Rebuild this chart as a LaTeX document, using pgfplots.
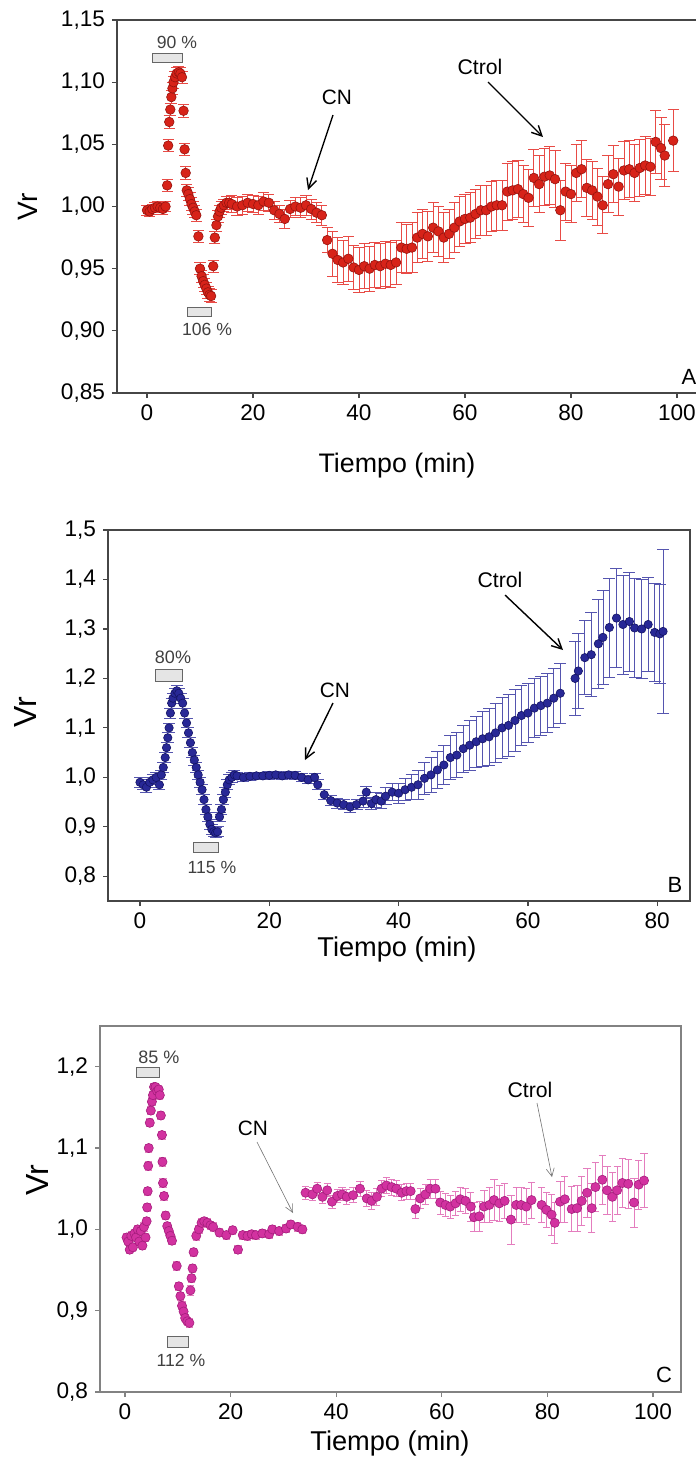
\documentclass[border=0pt]{standalone}
\usepackage{fontspec}
\setmainfont{Liberation Sans}
\usepackage{pgfplots}
\pgfplotsset{compat=1.18}
\usepackage{pgfplotstable}
\usetikzlibrary{arrows.meta}

\definecolor{redF}{RGB}{215,35,25}
\definecolor{redE}{RGB}{150,20,15}
\definecolor{redB}{RGB}{232,75,70}
\definecolor{bluF}{RGB}{40,40,150}
\definecolor{bluE}{RGB}{20,20,100}
\definecolor{bluB}{RGB}{85,85,175}
\definecolor{magF}{RGB}{210,50,160}
\definecolor{magE}{RGB}{165,30,125}
\definecolor{magB}{RGB}{228,125,190}
\definecolor{axA}{RGB}{70,70,70}
\definecolor{axC}{RGB}{130,130,130}

\pgfplotstableread{
t v e
0 0.997 0.004
0.5 0.996 0.004
1 0.998 0.004
1.5 0.999 0.004
2 1.000 0.004
2.5 0.999 0.004
3 0.998 0.004
3.5 1.000 0.004
3.8 1.017 0.005
4.0 1.049 0.005
4.2 1.068 0.005
4.4 1.078 0.005
4.6 1.088 0.005
4.8 1.095 0.005
5.0 1.100 0.005
5.3 1.104 0.005
5.6 1.107 0.005
6.0 1.108 0.005
6.3 1.107 0.005
6.6 1.104 0.005
6.9 1.077 0.005
7.1 1.046 0.005
7.3 1.027 0.005
7.5 1.013 0.005
7.8 1.010 0.005
8.1 1.006 0.005
8.4 1.002 0.005
8.7 0.999 0.005
9.0 0.996 0.005
9.3 0.993 0.005
9.7 0.976 0.005
10.0 0.950 0.005
10.3 0.944 0.005
10.6 0.940 0.005
10.9 0.937 0.005
11.2 0.934 0.005
11.5 0.931 0.005
11.8 0.929 0.005
12.1 0.928 0.005
12.5 0.952 0.005
12.8 0.975 0.005
13.1 0.985 0.005
13.4 0.992 0.005
13.7 0.996 0.005
14.0 0.999 0.005
14.5 1.001 0.005
15.0 1.003 0.005
15.5 1.003 0.005
16 1.002 0.007
17 1.000 0.007
18 1.001 0.007
19 1.003 0.007
20 1.002 0.007
21 1.001 0.007
22 1.004 0.007
23 1.003 0.007
24 0.997 0.007
25 0.994 0.007
26 0.990 0.008
27 0.998 0.007
28 1.000 0.007
29 0.999 0.008
30 1.001 0.008
31 0.998 0.008
32 0.995 0.008
33 0.993 0.008
34 0.973 0.010
35 0.962 0.018
36 0.957 0.018
37 0.955 0.018
38 0.958 0.018
39 0.951 0.018
40 0.949 0.018
41 0.952 0.018
42 0.950 0.018
43 0.953 0.018
44 0.952 0.018
45 0.954 0.018
46 0.953 0.018
47 0.955 0.018
48 0.967 0.020
49 0.966 0.020
50 0.967 0.020
51 0.975 0.020
52 0.978 0.020
53 0.976 0.020
54 0.983 0.020
55 0.980 0.020
56 0.975 0.020
57 0.978 0.020
58 0.983 0.020
59 0.988 0.020
60 0.990 0.020
61 0.991 0.020
62 0.994 0.020
63 0.997 0.020
64 0.997 0.020
65 1.000 0.020
66 1.001 0.020
67 1.001 0.020
68 1.012 0.023
69 1.013 0.023
70 1.014 0.023
71 1.010 0.023
72 1.007 0.023
73 1.023 0.023
74 1.018 0.023
75 1.024 0.023
76 1.025 0.023
77 1.022 0.023
78 0.997 0.024
79 1.012 0.023
80 1.010 0.023
81 1.027 0.023
82 1.030 0.023
83 1.015 0.023
84 1.013 0.023
85 1.008 0.023
86 1.001 0.023
87 1.018 0.023
88 1.026 0.023
89 1.016 0.023
90 1.029 0.023
91 1.030 0.023
92 1.027 0.023
93 1.031 0.023
94 1.033 0.023
95 1.032 0.023
96 1.052 0.025
97 1.047 0.025
97.7 1.041 0.025
99.3 1.053 0.025
}\dataA

\pgfplotstableread{
t v e
0 0.990 0.010
0.5 0.985 0.010
1 0.980 0.010
1.5 0.990 0.010
2 0.995 0.010
2.5 1.000 0.010
3 0.985 0.010
3.3 1.005 0.010
3.6 1.020 0.010
3.9 1.040 0.010
4.1 1.060 0.010
4.3 1.080 0.010
4.5 1.100 0.010
4.7 1.130 0.010
4.9 1.150 0.010
5.1 1.160 0.010
5.4 1.170 0.010
5.7 1.175 0.010
6.0 1.170 0.010
6.3 1.160 0.010
6.6 1.150 0.010
6.9 1.130 0.010
7.2 1.110 0.010
7.5 1.090 0.010
7.8 1.070 0.010
8.1 1.050 0.010
8.4 1.035 0.010
8.7 1.020 0.010
9.0 1.005 0.010
9.3 0.990 0.010
9.6 0.975 0.010
9.9 0.955 0.010
10.2 0.935 0.010
10.5 0.920 0.010
10.8 0.905 0.010
11.1 0.895 0.010
11.4 0.890 0.010
11.7 0.888 0.010
12.0 0.890 0.010
12.3 0.920 0.010
12.6 0.935 0.010
12.9 0.955 0.010
13.2 0.970 0.010
13.5 0.985 0.010
13.8 0.995 0.010
14.2 1.000 0.010
14.6 1.005 0.010
15 1.003 0.008
16 1.000 0.008
17 1.002 0.008
18 1.003 0.008
19 1.003 0.008
20 1.004 0.008
21 1.005 0.008
22 1.003 0.008
23 1.005 0.008
24 1.004 0.008
25 1.000 0.008
26 0.995 0.008
27 1.000 0.008
27.5 0.985 0.010
28.5 0.965 0.010
29.5 0.953 0.010
30.5 0.948 0.010
31.5 0.945 0.010
32.5 0.940 0.010
33.5 0.945 0.010
34.5 0.952 0.012
35 0.970 0.012
35.8 0.947 0.012
36.5 0.955 0.015
37.3 0.952 0.015
38 0.962 0.017
39 0.970 0.017
40 0.968 0.020
41 0.975 0.022
42 0.980 0.025
43 0.985 0.030
44 0.998 0.032
45 1.005 0.035
46 1.015 0.038
47 1.025 0.040
48 1.040 0.045
49 1.045 0.045
50 1.058 0.048
51 1.065 0.050
52 1.072 0.052
53 1.078 0.055
54 1.082 0.057
55 1.090 0.060
56 1.100 0.062
57 1.105 0.062
58 1.115 0.062
59 1.125 0.060
60 1.130 0.060
61 1.140 0.060
62 1.145 0.060
63 1.150 0.060
64 1.160 0.060
65 1.170 0.060
67.3 1.200 0.075
67.8 1.215 0.075
68.8 1.242 0.075
69.8 1.248 0.085
70.9 1.270 0.090
71.6 1.283 0.095
72.6 1.303 0.100
73.7 1.322 0.100
74.7 1.309 0.100
75.7 1.315 0.100
76.5 1.302 0.100
77.6 1.300 0.100
78.6 1.309 0.095
79.6 1.293 0.100
80.4 1.290 0.100
80.9 1.295 0.165
}\dataB

\pgfplotstableread{
t v e
0.3 0.990 0.005
0.6 0.985 0.005
0.9 0.975 0.005
1.2 0.992 0.005
1.5 0.978 0.005
1.8 0.995 0.005
2.1 0.990 0.005
2.4 1.000 0.005
2.7 0.985 0.005
3.0 0.998 0.005
3.3 0.980 0.005
3.6 1.003 0.005
3.9 0.990 0.005
4.1 1.010 0.005
4.2 1.027 0.005
4.3 1.047 0.005
4.4 1.078 0.005
4.5 1.100 0.005
4.7 1.131 0.005
4.9 1.146 0.005
5.1 1.157 0.005
5.3 1.165 0.005
5.5 1.175 0.005
5.8 1.175 0.005
6.1 1.170 0.005
6.4 1.172 0.005
6.6 1.165 0.005
6.8 1.140 0.005
7.0 1.116 0.005
7.1 1.083 0.006
7.2 1.057 0.006
7.4 1.041 0.005
7.7 1.017 0.005
8.0 1.004 0.005
8.3 0.998 0.005
8.6 0.992 0.005
8.9 0.986 0.005
9.8 0.955 0.005
10.2 0.930 0.005
10.5 0.918 0.005
10.8 0.906 0.005
11.1 0.899 0.005
11.4 0.891 0.005
11.8 0.887 0.005
12.2 0.885 0.005
12.4 0.925 0.006
12.6 0.940 0.005
12.8 0.952 0.005
13.0 0.972 0.005
13.5 0.992 0.005
14.0 1.000 0.005
14.5 1.008 0.005
15.0 1.010 0.005
15.6 1.008 0.005
16.2 1.005 0.005
16.7 1.003 0.005
17.9 0.996 0.005
19.2 0.993 0.005
20.4 0.999 0.005
21.4 0.975 0.005
22.3 0.993 0.005
23.2 0.992 0.005
24.0 0.994 0.005
24.8 0.993 0.005
26.0 0.995 0.005
27.3 0.994 0.005
27.9 1.000 0.005
29.2 0.998 0.005
30.5 1.001 0.005
31.4 1.006 0.005
32.7 1.003 0.005
33.6 1.000 0.005
34.2 1.045 0.008
35.5 1.043 0.008
36.4 1.050 0.008
37.4 1.040 0.008
38.3 1.048 0.008
39.2 1.034 0.008
40.2 1.041 0.008
41.1 1.043 0.008
42.0 1.040 0.009
43.2 1.042 0.009
44.5 1.050 0.009
45.8 1.038 0.010
46.7 1.035 0.010
47.7 1.040 0.010
48.6 1.050 0.010
49.5 1.054 0.010
50.5 1.052 0.010
51.4 1.050 0.010
52.4 1.045 0.010
53.3 1.047 0.010
54.1 1.047 0.010
55.0 1.025 0.012
55.9 1.038 0.012
56.9 1.043 0.012
57.8 1.050 0.012
58.8 1.050 0.012
59.7 1.033 0.014
60.7 1.030 0.014
61.6 1.028 0.014
62.6 1.032 0.015
63.5 1.037 0.015
64.5 1.035 0.015
65.5 1.028 0.018
66.1 1.015 0.018
67.1 1.016 0.018
68.0 1.028 0.020
69.0 1.030 0.022
69.9 1.036 0.025
70.9 1.032 0.022
71.9 1.035 0.022
73.1 1.012 0.030
74.1 1.030 0.022
75.0 1.030 0.022
76.0 1.028 0.022
77.0 1.036 0.022
78.9 1.030 0.022
79.8 1.024 0.022
80.8 1.018 0.025
81.4 1.008 0.025
82.4 1.034 0.025
83.3 1.037 0.028
84.6 1.025 0.028
85.6 1.026 0.028
86.5 1.035 0.030
87.5 1.045 0.030
88.4 1.026 0.030
89.1 1.052 0.030
90.4 1.061 0.030
91.3 1.048 0.030
92.3 1.040 0.030
93.2 1.048 0.030
94.2 1.057 0.030
95.3 1.056 0.030
96.4 1.033 0.030
97.3 1.055 0.030
98.3 1.060 0.033
}\dataC

\pgfplotsset{
  panel/.style={
    scale only axis, anchor=south west,
    tick align=outside, xtick pos=bottom, ytick pos=left,
    major tick length=2.5pt,
    tick label style={font=\fontsize{11.3}{13}\selectfont},
    /pgf/number format/assume math mode=true,
    /pgf/number format/use comma,
    /pgf/number format/1000 sep={},
    axis line style={line width=0.6pt},
    tick style={line width=0.6pt},
  },
}

\begin{document}
\begin{tikzpicture}
\useasboundingbox (0,0) rectangle (348pt,-732pt);

% Panel A
\begin{axis}[panel,
  at={(58.5pt,-196.5pt)}, width=294pt, height=186.5pt,
  xmin=-5.66, xmax=105.3, ymin=0.85, ymax=1.15,
  xtick={0,20,40,60,80,100},
  ytick={0.85,0.9,0.95,1,1.05,1.1,1.15},
  yticklabel style={/pgf/number format/.cd, fixed, fixed zerofill, precision=2},
  axis line style={draw=axA}, tick style={draw=axA},
]
\addplot[only marks, mark=*, mark size=2.4pt,
  mark options={fill=redF, draw=redE, line width=0.3pt},
  error bars/.cd, y dir=both, y explicit,
  error bar style={redB, line width=0.4pt},
  error mark options={rotate=90, redB, mark size=2.8pt, line width=0.4pt}]
  table[x index=0, y index=1, y error index=2] {\dataA};
\end{axis}

% Panel B
\begin{axis}[panel,
  at={(54pt,-450.5pt)}, width=291pt, height=185.5pt,
  xmin=-4.95, xmax=85.07, ymin=0.75, ymax=1.5,
  xtick={0,20,40,60,80},
  ytick={0.8,0.9,1,1.1,1.2,1.3,1.4,1.5},
  yticklabel style={/pgf/number format/.cd, fixed, fixed zerofill, precision=1},
  axis line style={draw=axA}, tick style={draw=axA},
]
\addplot[only marks, mark=*, mark size=2.1pt,
  mark options={fill=bluF, draw=bluE, line width=0.3pt},
  error bars/.cd, y dir=both, y explicit,
  error bar style={bluB, line width=0.4pt},
  error mark options={rotate=90, bluB, mark size=3pt, line width=0.4pt}]
  table[x index=0, y index=1, y error index=2] {\dataB};
\end{axis}

% Panel C
\begin{axis}[panel,
  at={(50pt,-696pt)}, width=290.5pt, height=183pt,
  xmin=-4.73, xmax=105.3, ymin=0.8, ymax=1.25,
  xtick={0,20,40,60,80,100},
  ytick={0.8,0.9,1,1.1,1.2},
  yticklabel style={/pgf/number format/.cd, fixed, fixed zerofill, precision=1},
  axis line style={draw=axC}, tick style={draw=axC},
]
\addplot[only marks, mark=*, mark size=2.3pt,
  mark options={fill=magF, draw=magE, line width=0.3pt},
  error bars/.cd, y dir=both, y explicit,
  error bar style={magB, line width=0.4pt},
  error mark options={rotate=90, magB, mark size=1.8pt, line width=0.4pt}]
  table[x index=0, y index=1, y error index=2] {\dataC};
\end{axis}

\begin{scope}[x=0.5pt, y=-0.5pt]
% axis labels
\node[rotate=90, font=\fontsize{14}{16}\selectfont] at (28,207) {Vr};
\node[rotate=90, font=\fontsize{16}{18}\selectfont] at (25,712) {Vr};
\node[rotate=90, font=\fontsize{16}{18}\selectfont] at (37,1180) {Vr};
\node[font=\fontsize{13.4}{16}\selectfont] at (397,466) {Tiempo (min)};
\node[font=\fontsize{13.6}{16}\selectfont] at (397,949) {Tiempo (min)};
\node[font=\fontsize{13.6}{16}\selectfont] at (390,1443) {Tiempo (min)};
% panel letters
\node[font=\fontsize{11}{13}\selectfont] at (689,377) {A};
\node[font=\fontsize{11}{13}\selectfont] at (675,885) {B};
\node[font=\fontsize{11}{13}\selectfont] at (664,1375) {C};
% A annotations
\node[font=\fontsize{8.8}{10}\selectfont, text=black!75] at (177,42) {90 \%};
\draw[draw=black!60, fill=black!10, line width=0.4pt] (152,53) rectangle (182,62);
\node[font=\fontsize{8.8}{10}\selectfont, text=black!75] at (207,329) {106 \%};
\draw[draw=black!60, fill=black!10, line width=0.4pt] (187,307) rectangle (211,316);
\node[font=\fontsize{10.4}{12}\selectfont] at (337,97) {CN};
\draw[-{Straight Barb[length=5pt,width=5pt]}, line width=0.7pt] (333,115) -- (308,190);
\node[font=\fontsize{10.6}{12}\selectfont] at (480,67) {Ctrol};
\draw[-{Straight Barb[length=5pt,width=5pt]}, line width=0.7pt] (488,82) -- (543,137);
% B annotations
\node[font=\fontsize{9}{10}\selectfont, text=black!75] at (173,657) {80\%};
\draw[draw=black!60, fill=black!10, line width=0.4pt] (155,669) rectangle (182,681);
\node[font=\fontsize{8.8}{10}\selectfont, text=black!75] at (212,867) {115 \%};
\draw[draw=black!60, fill=black!10, line width=0.4pt] (193,842) rectangle (218,852);
\node[font=\fontsize{10.4}{12}\selectfont] at (335,690) {CN};
\draw[-{Straight Barb[length=5pt,width=5pt]}, line width=0.7pt] (333,703) -- (305,760);
\node[font=\fontsize{10.6}{12}\selectfont] at (500,580) {Ctrol};
\draw[-{Straight Barb[length=5pt,width=5pt]}, line width=0.7pt] (505,595) -- (563,650);
% C annotations
\node[font=\fontsize{9}{10}\selectfont, text=black!75] at (159,1057) {85 \%};
\draw[draw=black!60, fill=black!10, line width=0.4pt] (136,1067) rectangle (159,1077);
\node[font=\fontsize{8.8}{10}\selectfont, text=black!75] at (181,1360) {112 \%};
\draw[draw=black!60, fill=black!10, line width=0.4pt] (167,1336) rectangle (188,1347);
\node[font=\fontsize{10.4}{12}\selectfont] at (253,1128) {CN};
\draw[-{Straight Barb[length=4pt,width=4pt]}, line width=0.3pt, draw=black!55] (257,1142) -- (293,1213);
\node[font=\fontsize{10.6}{12}\selectfont] at (530,1090) {Ctrol};
\draw[-{Straight Barb[length=4pt,width=4pt]}, line width=0.3pt, draw=black!55] (537,1103) -- (552,1177);
\end{scope}
\end{tikzpicture}
\end{document}
